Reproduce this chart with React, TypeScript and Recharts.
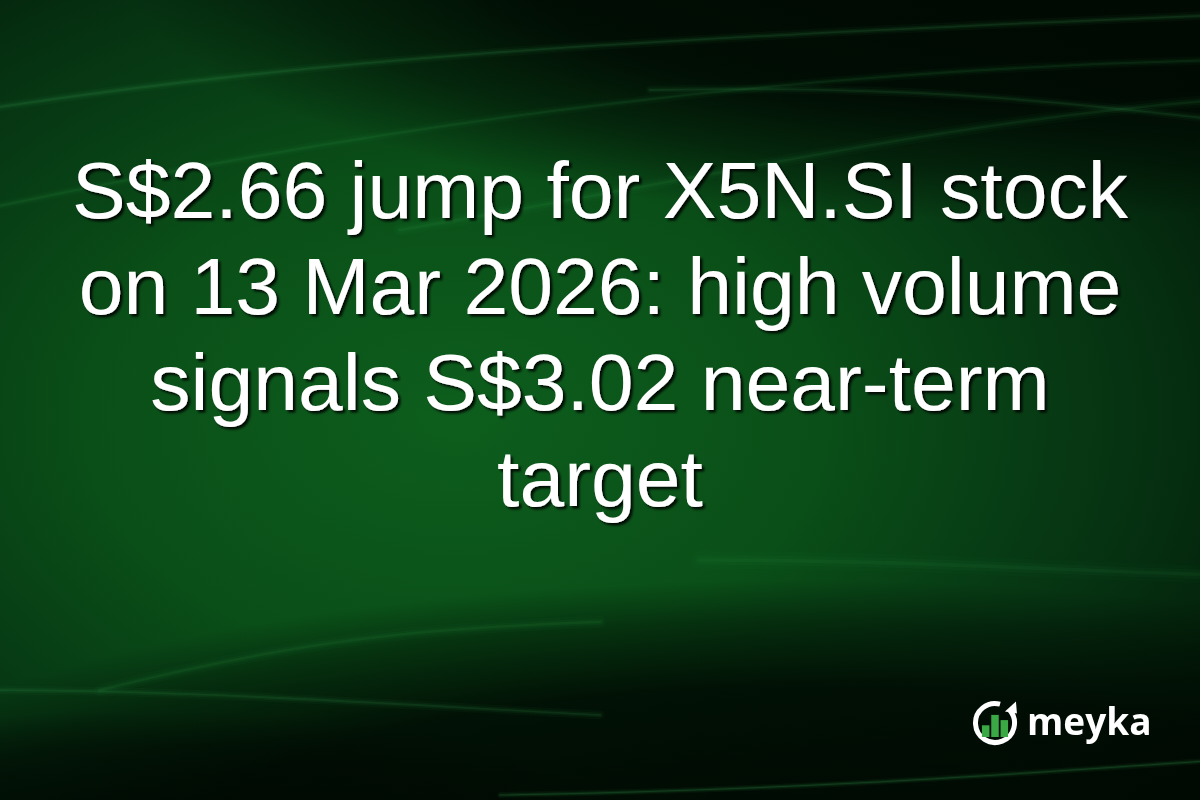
import React from 'react';
import { ComposedChart, Customized } from 'recharts';

const W = 1200;
const H = 800;

const titleLines: string[] = [
  'S$2.66 jump for X5N.SI stock',
  'on 13 Mar 2026: high volume',
  'signals S$3.02 near-term',
  'target',
];
const brandName = 'meyka';
const logoBars: number[] = [0.45, 0.85, 0.65];

const Streak = ({ d, op, w }: { d: string; op: number; w: number }) => (
  <g fill="none" stroke="#3aa552" strokeLinecap="round">
    <path d={d} strokeOpacity={op * 0.35} strokeWidth={w * 3} />
    <path d={d} strokeOpacity={op * 0.6} strokeWidth={w * 1.6} />
    <path d={d} strokeOpacity={op} strokeWidth={w * 0.6} />
  </g>
);

const Background = () => (
  <g>
    <defs>
      <radialGradient id="bgMain" cx="0.38" cy="0.52" r="0.75" fx="0.38" fy="0.52">
        <stop offset="0" stopColor="#0d5e1d" />
        <stop offset="0.4" stopColor="#0a4f18" />
        <stop offset="0.75" stopColor="#063312" />
        <stop offset="1" stopColor="#021a07" />
      </radialGradient>
      <radialGradient
        id="topDark"
        gradientUnits="userSpaceOnUse"
        cx={0}
        cy={0}
        r={1}
        gradientTransform="translate(1000,-40) scale(880,260)"
      >
        <stop offset="0" stopColor="#000802" stopOpacity="0.97" />
        <stop offset="0.55" stopColor="#000802" stopOpacity="0.88" />
        <stop offset="0.8" stopColor="#000802" stopOpacity="0.45" />
        <stop offset="1" stopColor="#000802" stopOpacity="0" />
      </radialGradient>
      <radialGradient
        id="botDark"
        gradientUnits="userSpaceOnUse"
        cx={0}
        cy={0}
        r={1}
        gradientTransform="translate(800,850) scale(1000,270)"
      >
        <stop offset="0" stopColor="#000802" stopOpacity="0.97" />
        <stop offset="0.6" stopColor="#000802" stopOpacity="0.85" />
        <stop offset="0.85" stopColor="#000802" stopOpacity="0.4" />
        <stop offset="1" stopColor="#000802" stopOpacity="0" />
      </radialGradient>
      <radialGradient
        id="botLeftDark"
        gradientUnits="userSpaceOnUse"
        cx={0}
        cy={0}
        r={1}
        gradientTransform="translate(150,830) scale(480,120)"
      >
        <stop offset="0" stopColor="#000802" stopOpacity="0.85" />
        <stop offset="0.7" stopColor="#000802" stopOpacity="0.45" />
        <stop offset="1" stopColor="#000802" stopOpacity="0" />
      </radialGradient>
      <filter id="txtShadow" filterUnits="userSpaceOnUse" x={0} y={0} width={1200} height={800}>
        <feDropShadow dx="2.5" dy="2.5" stdDeviation="0.8" floodColor="#000000" floodOpacity="0.85" />
      </filter>
    </defs>
    <rect x={0} y={0} width={W} height={H} fill="url(#bgMain)" />
    <rect x={0} y={0} width={W} height={H} fill="url(#topDark)" />
    <rect x={0} y={0} width={W} height={H} fill="url(#botDark)" />
    <rect x={0} y={0} width={W} height={H} fill="url(#botLeftDark)" />
    {/* faint light streaks */}
    <Streak d="M-20,110 C300,60 600,40 1220,15" op={0.14} w={3} />
    <Streak d="M-20,210 C400,120 800,70 1220,60" op={0.1} w={3} />
    <Streak d="M400,230 C700,180 950,120 1220,100" op={0.1} w={4} />
    <Streak d="M650,90 C900,85 1050,100 1220,120" op={0.12} w={3} />
    <Streak d="M-20,690 C200,690 400,705 600,715" op={0.12} w={3} />
    <Streak d="M100,690 C300,640 420,628 600,622" op={0.1} w={4} />
    <Streak d="M500,795 C800,790 1000,775 1220,760" op={0.18} w={2} />
    <Streak d="M700,560 C900,560 1050,570 1220,575" op={0.07} w={6} />
  </g>
);

const Title = () => (
  <g filter="url(#txtShadow)">
    {titleLines.map((line, i) => (
      <text
        key={i}
        x={W / 2}
        y={218 + i * 96}
        textAnchor="middle"
        fill="#ffffff"
        fontFamily="'Liberation Sans', Arial, sans-serif"
        fontSize={80.5}
      >
        {line}
      </text>
    ))}
  </g>
);

const Logo = () => {
  const cx = 995;
  const cy = 723;
  const r = 19.5;
  const a0 = (-40 * Math.PI) / 180;
  const a1 = (-75 * Math.PI) / 180;
  const sx = cx + r * Math.cos(a0);
  const sy = cy + r * Math.sin(a0);
  const ex = cx + r * Math.cos(a1);
  const ey = cy + r * Math.sin(a1);
  const barW = 7.5;
  const gap = 1.8;
  const baseY = cy + 14;
  const maxH = 26;
  const startX = cx - (logoBars.length * barW + (logoBars.length - 1) * gap) / 2;
  return (
    <g>
      <path
        d={`M${sx},${sy} A${r},${r} 0 1 1 ${ex},${ey}`}
        stroke="#ffffff"
        strokeWidth={5}
        fill="none"
      />
      <path
        d={`M${sx + 6},${sy - 9} L${sx + 7},${sy + 3} L${sx - 5},${sy + 1} Z`}
        fill="#ffffff"
      />
      {logoBars.map((v, i) => (
        <rect
          key={i}
          x={startX + i * (barW + gap)}
          y={baseY - v * maxH}
          width={barW}
          height={v * maxH}
          fill="#3aa845"
        />
      ))}
      <text
        x={1027}
        y={735}
        fill="#ffffff"
        fontFamily="'Open Sans', sans-serif"
        fontWeight={700}
        fontSize={37}
      >
        {brandName}
      </text>
    </g>
  );
};

const Scene = () => (
  <g>
    <Background />
    <Title />
    <Logo />
  </g>
);

export default function App() {
  return (
    <div style={{ position: 'fixed', left: 0, top: 0, width: W, height: H }}>
      <ComposedChart width={W} height={H} data={[]} margin={{ top: 0, right: 0, bottom: 0, left: 0 }}>
        <Customized component={<Scene />} />
      </ComposedChart>
    </div>
  );
}
